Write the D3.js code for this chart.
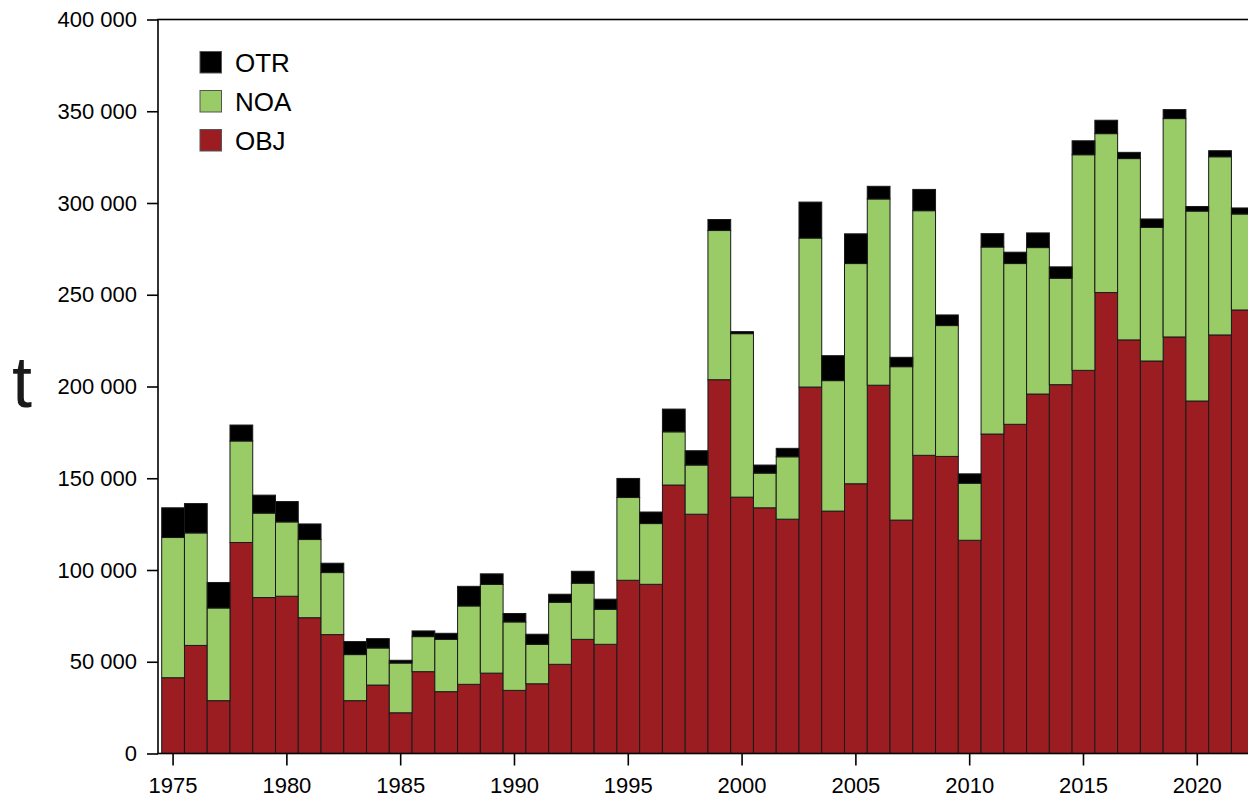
<!DOCTYPE html>
<html>
<head>
<meta charset="utf-8">
<script src="https://cdn.jsdelivr.net/npm/d3@7"></script>
<style>
  body { margin: 0; background: #fff; }
  svg { display: block; font-family: "Liberation Sans", Arial, sans-serif; }
</style>
</head>
<body>
<div id="chart-area"></div>
<script>
// data (tonnes)
const years = d3.range(1975, 2023);
const obj = [41300, 58900, 28800, 115000, 85000, 85700, 74000, 64800, 28800, 37300,
             22200, 44600, 33700, 37700, 43800, 34400, 38000, 48600, 62200, 59500,
             94400, 92200, 146300, 130400, 203700, 139700, 133900, 127700, 199700, 132100,
             147000, 200700, 127200, 162500, 161900, 116200, 174100, 179400, 195900, 201000,
             208800, 251200, 225400, 213900, 227000, 192100, 228100, 241700];
const noa = [76400, 61300, 50500, 55300, 46000, 40500, 42600, 33800, 25100, 20200,
             27100, 19100, 28500, 42700, 48300, 37300, 21500, 33800, 30600, 19100,
             45100, 33100, 29000, 26800, 81300, 89100, 18900, 34000, 81200, 71100,
             120000, 101500, 83600, 133300, 71300, 31100, 101900, 87600, 79800, 58000,
             117500, 86600, 98800, 72800, 119000, 103500, 97100, 52300];
const otr = [16200, 16000, 13900, 8700, 9800, 11100, 8500, 5100, 7100, 5100,
             1500, 3100, 3300, 10700, 5800, 4600, 5500, 4400, 6500, 5500,
             10400, 6300, 12400, 7800, 6000, 1100, 4400, 4600, 19600, 13600,
             16200, 6900, 5100, 11600, 5800, 5100, 7300, 6200, 8000, 6200,
             7600, 7300, 3400, 4600, 4900, 2500, 3300, 3300];
const series = ["OBJ", "NOA", "OTR"];
const legendOrder = ["OTR", "NOA", "OBJ"];
const yTicks = [0, 50000, 100000, 150000, 200000, 250000, 300000, 350000, 400000];
const xTicks = [1975, 1980, 1985, 1990, 1995, 2000, 2005, 2010, 2015, 2020];

const colors = { OBJ: "#9b1d21", NOA: "#99cc66", OTR: "#000000" };

const margin = { left: 158, top: 19.5 };
const width = 1100, height = 734;

const svg = d3.select("#chart-area")
  .append("svg")
    .attr("width", 1248)
    .attr("height", 802);

const g = svg.append("g")
  .attr("transform", "translate(" + margin.left + "," + margin.top + ")");

const table = years.map((yr, i) => ({ year: yr, OBJ: obj[i], NOA: noa[i], OTR: otr[i] }));
const stacked = d3.stack().keys(series)(table);

const x = d3.scaleBand()
  .domain(years)
  .range([3.7, 3.7 + years.length * 22.76])
  .padding(0);

const y = d3.scaleLinear()
  .domain([0, 400000])
  .range([height, 0]);

const fmt = d3.formatLocale({ decimal: ",", thousands: " ", grouping: [3], currency: ["", ""] }).format(",");

// bars
g.selectAll("g.layer")
  .data(stacked)
  .enter().append("g")
    .attr("class", "layer")
    .attr("fill", d => colors[d.key])
  .selectAll("rect")
  .data(d => d)
  .enter().append("rect")
    .attr("x", d => x(d.data.year))
    .attr("width", x.bandwidth())
    .attr("y", d => y(d[1]))
    .attr("height", d => y(d[0]) - y(d[1]))
    .attr("stroke", "#1a1a1a")
    .attr("stroke-width", 1);

// frame
g.append("rect")
  .attr("x", 0).attr("y", 0)
  .attr("width", width).attr("height", height)
  .attr("fill", "none")
  .attr("stroke", "#000")
  .attr("stroke-width", 1.6);

// y axis
const yaxis = d3.axisLeft(y)
  .tickValues(yTicks)
  .tickSize(11)
  .tickPadding(10)
  .tickFormat(fmt);
const yg = g.append("g").call(yaxis);
yg.select(".domain").remove();
yg.selectAll("line").attr("stroke", "#000").attr("stroke-width", 1.6);
yg.selectAll("text").attr("font-size", "22px").attr("fill", "#000")
  .attr("font-family", "Liberation Sans, Arial, sans-serif");

// x axis (ticks sit a little left of the bar centres)
const xaxis = d3.axisBottom(x)
  .tickValues(xTicks)
  .tickSize(12)
  .tickPadding(12)
  .offset(-2);
const xg = g.append("g")
  .attr("transform", "translate(0," + height + ")")
  .call(xaxis);
xg.select(".domain").remove();
xg.selectAll("line").attr("stroke", "#000").attr("stroke-width", 1.6);
xg.selectAll("text").attr("font-size", "22px").attr("fill", "#000")
  .attr("font-family", "Liberation Sans, Arial, sans-serif");

// y label
svg.append("text")
  .attr("x", 22)
  .attr("y", 407)
  .attr("text-anchor", "middle")
  .attr("font-size", "72px")
  .attr("fill", "#1a1a1a")
  .text("t");

// legend
const legend = g.selectAll("g.legend")
  .data(legendOrder)
  .enter().append("g")
    .attr("class", "legend")
    .attr("transform", (d, i) => "translate(42," + (32 + i * 39) + ")");

legend.append("rect")
  .attr("width", 21.5)
  .attr("height", 21.5)
  .attr("fill", d => colors[d])
  .attr("stroke", "#555")
  .attr("stroke-width", 1);

legend.append("text")
  .attr("x", 35)
  .attr("y", 20.5)
  .attr("font-size", "26px")
  .attr("fill", "#000")
  .text(d => d);
</script>
</body>
</html>
